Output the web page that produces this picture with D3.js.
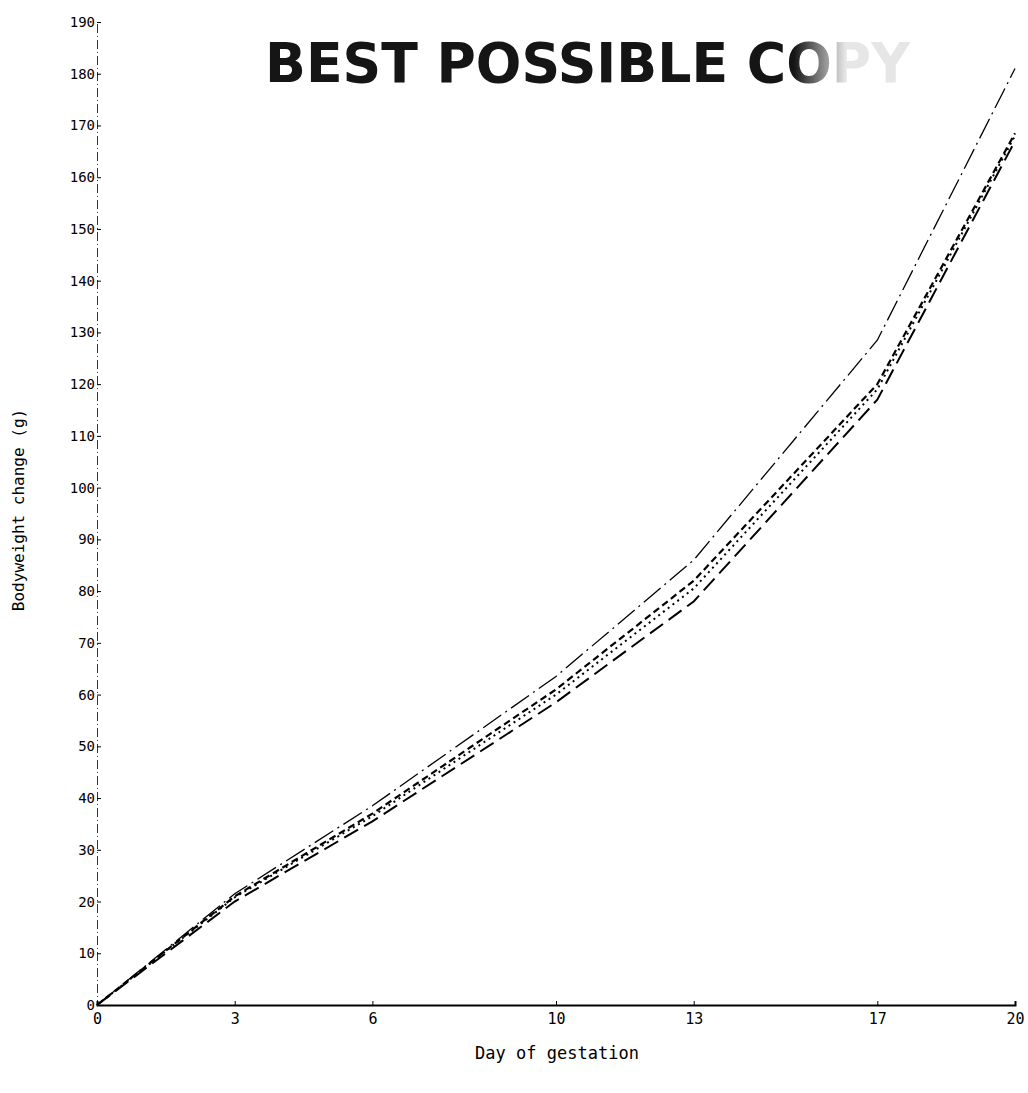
<!doctype html>
<html lang="en">
<head>
  <meta charset="utf-8">
  <title>Bodyweight change</title>
  <script src="https://d3js.org/d3.v7.min.js"></script>
  <style>
    body { margin: 0; background: #fff; }
  </style>
</head>
<body>
  <div id="chart"></div>
  <script type="text/javascript">
	// days of gestation and mean bodyweight change (g) for each group
	var days = [0, 3, 6, 10, 13, 17, 20];
	var dashDot   = [0, 21.5, 38.5, 63.5, 86, 128.5, 181];
	var shortDash = [0, 21, 37, 61, 82, 120, 168.5];
	var dotted    = [0, 20.8, 36.5, 60, 80.5, 119, 168];
	var longDash  = [0, 20, 35.5, 58.5, 78, 117, 167];
	var yTicks = d3.range(0, 200, 10);

	var width = 1028, height = 1093;

	var svg = d3.select('#chart')
				.append('svg')
				.attr('width', width)
				.attr('height', height);

	var x = d3.scaleLinear().domain([0, 20]).range([97, 1015]);
	var y = d3.scaleLinear().domain([0, 190]).range([1005, 22]);

	//the stamp fades out towards its end, as in the scan
	var grad = svg.append('defs').append('linearGradient')
		.attr('id', 'fade')
		.attr('gradientUnits', 'userSpaceOnUse')
		.attr('x1', 265).attr('x2', 910).attr('y1', 0).attr('y2', 0);
	grad.append('stop').attr('offset', '0.82').attr('stop-color', '#151515');
	grad.append('stop').attr('offset', '0.9').attr('stop-color', '#e6e6e6');

	svg.append('text')
		.attr('x', 265)
		.attr('y', 82)
		.text('BEST POSSIBLE COPY')
		.style('font-family', 'DejaVu Sans')
		.style('font-weight', 'bold')
		.style('font-size', '56px')
		.style('fill', 'url(#fade)')
		.attr('textLength', 645)
		.attr('lengthAdjust', 'spacingAndGlyphs');

	//y axis, drawn as a faint dash-dot rule
	var yAxis = svg.append('g')
		.attr('transform', 'translate(97,0)')
		.call(d3.axisLeft(y).tickValues(yTicks).tickSize(-4).tickPadding(2).tickFormat(d3.format('d')));
	yAxis.select('.domain')
		.attr('stroke', '#333')
		.attr('stroke-width', 1)
		.attr('stroke-dasharray', '9,3,1,3');
	yAxis.selectAll('text')
		.style('font-family', 'DejaVu Sans Mono')
		.style('font-size', '14px')
		.style('fill', '#000');

	//x axis, solid
	var xAxis = svg.append('g')
		.attr('transform', 'translate(0,1005)')
		.call(d3.axisBottom(x).tickValues(days).tickSize(-4).tickPadding(8));
	xAxis.select('.domain').attr('stroke', '#000').attr('stroke-width', 2);
	xAxis.selectAll('text')
		.style('font-family', 'DejaVu Sans Mono')
		.style('font-size', '15px')
		.style('fill', '#000');

	//axis titles
	svg.append('text')
		.attr('transform', 'translate(24,510) rotate(-90)')
		.attr('text-anchor', 'middle')
		.text('Bodyweight change (g)')
		.style('font-family', 'DejaVu Sans Mono')
		.style('font-size', '16px');

	svg.append('text')
		.attr('x', 557)
		.attr('y', 1059)
		.attr('text-anchor', 'middle')
		.text('Day of gestation')
		.style('font-family', 'DejaVu Sans Mono')
		.style('font-size', '17px');

	//the four groups
	var series = [
		{values: dashDot,   dash: '22,5,2,5', w: 1.3},
		{values: shortDash, dash: '7,4',      w: 2.2},
		{values: dotted,    dash: '2,4',      w: 2},
		{values: longDash,  dash: '16,7',     w: 2}
	];

	var line = d3.line()
		.x(function(d, i) { return x(days[i]); })
		.y(function(d) { return y(d); });

	svg.selectAll('.group')
		.data(series)
		.enter()
		.append('path')
		.attr('class', 'group')
		.attr('d', function(d) { return line(d.values); })
		.attr('fill', 'none')
		.attr('stroke', '#000')
		.attr('stroke-width', function(d) { return d.w; })
		.attr('stroke-dasharray', function(d) { return d.dash; });
  </script>
</body>
</html>
